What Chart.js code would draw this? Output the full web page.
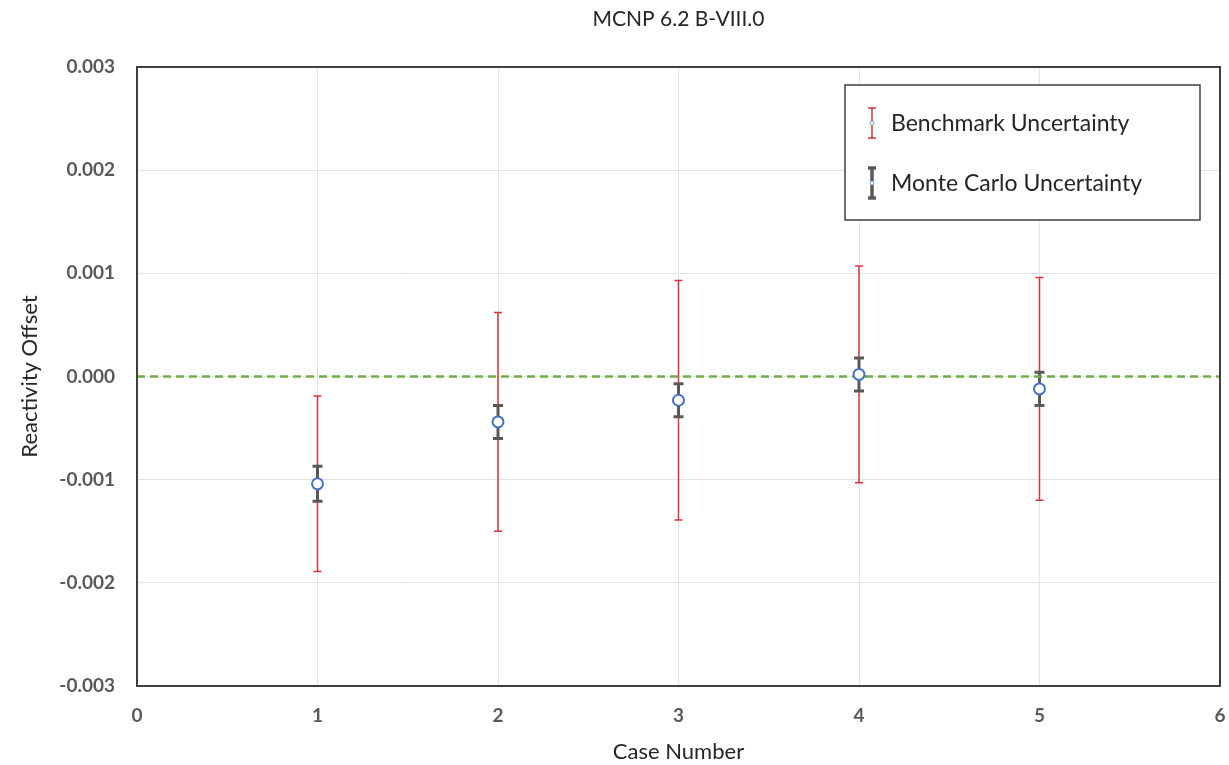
<!DOCTYPE html>
<html>
<head>
<meta charset="utf-8">
<script src="https://cdn.jsdelivr.net/npm/chart.js@4/dist/chart.umd.min.js"></script>
<style>
  html, body { margin: 0; padding: 0; background: #fff; }
  #wrap { width: 1229px; height: 765px; }
</style>
</head>
<body>
<div id="wrap"><canvas id="chart"></canvas></div>
<script>
// data
const caseNumbers = [1, 2, 3, 4, 5];
const offsets = [-0.00104, -0.00044, -0.00023, 0.00002, -0.00012];
const benchmarkUnc = [0.00085, 0.00106, 0.00116, 0.00105, 0.00108];
const monteCarloUnc = [0.00017, 0.00016, 0.00016, 0.00016, 0.00016];
const yTicks = [-0.003, -0.002, -0.001, 0.000, 0.001, 0.002, 0.003];

const FONT = 'Lato, "Liberation Sans", sans-serif';

const points = caseNumbers.map((c, i) => ({ x: c, y: offsets[i] }));

// draw the vertical error bars behind the markers
const errorBars = {
  id: 'errorBars',
  beforeDatasetsDraw(chart) {
    const { ctx, scales: { x, y } } = chart;
    const drawSet = (unc, color, lw, cap) => {
      ctx.save();
      ctx.strokeStyle = color;
      ctx.lineWidth = lw;
      caseNumbers.forEach((c, i) => {
        const px = x.getPixelForValue(c);
        const top = y.getPixelForValue(offsets[i] + unc[i]);
        const bot = y.getPixelForValue(offsets[i] - unc[i]);
        ctx.beginPath();
        ctx.moveTo(px, top); ctx.lineTo(px, bot);
        ctx.moveTo(px - cap, top); ctx.lineTo(px + cap, top);
        ctx.moveTo(px - cap, bot); ctx.lineTo(px + cap, bot);
        ctx.stroke();
      });
      ctx.restore();
    };
    drawSet(benchmarkUnc, '#d9333a', 1.5, 4);
    drawSet(monteCarloUnc, '#595959', 3, 5);
  }
};

// title, plot frame and legend box
const frameAndLegend = {
  id: 'frameAndLegend',
  afterDraw(chart) {
    const { ctx, chartArea: a } = chart;
    ctx.save();
    ctx.fillStyle = '#262626';
    ctx.font = '21px ' + FONT;
    ctx.textAlign = 'center';
    ctx.textBaseline = 'middle';
    ctx.fillText('MCNP 6.2 B-VIII.0', (a.left + a.right) / 2, 19);

    ctx.strokeStyle = '#404040';
    ctx.lineWidth = 2;
    ctx.strokeRect(a.left, a.top, a.right - a.left, a.bottom - a.top);

    const bx = 845, by = 85, bw = 355, bh = 135;
    ctx.fillStyle = '#fff';
    ctx.fillRect(bx, by, bw, bh);
    ctx.lineWidth = 1.5;
    ctx.strokeRect(bx, by, bw, bh);

    const icon = (cy, color, lw, half) => {
      const ix = 872;
      ctx.strokeStyle = color;
      ctx.lineWidth = lw;
      ctx.beginPath();
      ctx.moveTo(ix, cy - half); ctx.lineTo(ix, cy + half);
      ctx.moveTo(ix - 4, cy - half); ctx.lineTo(ix + 4, cy - half);
      ctx.moveTo(ix - 4, cy + half); ctx.lineTo(ix + 4, cy + half);
      ctx.stroke();
      ctx.beginPath();
      ctx.arc(ix, cy, 2, 0, Math.PI * 2);
      ctx.fillStyle = '#fff';
      ctx.fill();
      ctx.strokeStyle = '#7a9fd8';
      ctx.lineWidth = 1;
      ctx.stroke();
    };
    icon(123, '#d9333a', 1.5, 15);
    icon(183, '#595959', 3.5, 15);

    ctx.fillStyle = '#262626';
    ctx.font = '23px ' + FONT;
    ctx.textAlign = 'left';
    ctx.textBaseline = 'middle';
    ctx.fillText('Benchmark Uncertainty', 891, 124);
    ctx.fillText('Monte Carlo Uncertainty', 891, 184);
    ctx.restore();
  }
};

new Chart(document.getElementById('chart'), {
  type: 'scatter',
  data: {
    datasets: [
      {
        label: 'Zero',
        data: [{ x: 0, y: 0 }, { x: 6, y: 0 }],
        showLine: true,
        borderColor: '#70ad47',
        borderWidth: 2.5,
        borderDash: [8, 5],
        pointRadius: 0,
        order: 2
      },
      {
        label: 'Benchmark Uncertainty',
        data: points,
        pointStyle: 'circle',
        pointRadius: 5.5,
        pointBorderWidth: 2,
        pointBackgroundColor: '#ffffff',
        pointBorderColor: '#4472c4',
        order: 1
      }
    ]
  },
  options: {
    responsive: true,
    maintainAspectRatio: false,
    animation: false,
    layout: { padding: { top: 67, right: 9, left: 13, bottom: 0 } },
    plugins: {
      legend: { display: false },
      tooltip: { enabled: false },
      title: { display: false }
    },
    scales: {
      x: {
        type: 'linear',
        min: 0, max: 6,
        ticks: { stepSize: 1, color: '#595959', font: { family: FONT, size: 19, weight: 'bold' }, padding: 18 },
        grid: { color: '#e3e3e3', drawTicks: false },
        border: { display: false },
        title: { display: true, text: 'Case Number', color: '#262626', font: { family: FONT, size: 22 }, padding: { top: 4, bottom: 0 } },
        afterFit(s) { s.height = 79; s.paddingRight = 0; s.paddingLeft = 0; }
      },
      y: {
        type: 'linear',
        min: yTicks[0], max: yTicks[yTicks.length - 1],
        afterBuildTicks(s) { s.ticks = yTicks.map(v => ({ value: v })); },
        ticks: {
          color: '#595959',
          font: { family: FONT, size: 19, weight: 'bold' },
          padding: 22,
          callback: v => v.toFixed(3)
        },
        grid: { color: '#e3e3e3', drawTicks: false },
        border: { display: false },
        title: { display: true, text: 'Reactivity Offset', color: '#262626', font: { family: FONT, size: 22 } },
        afterFit(s) { s.width = 124; s.paddingTop = 0; s.paddingBottom = 0; }
      }
    }
  },
  plugins: [errorBars, frameAndLegend]
});
</script>
</body>
</html>
